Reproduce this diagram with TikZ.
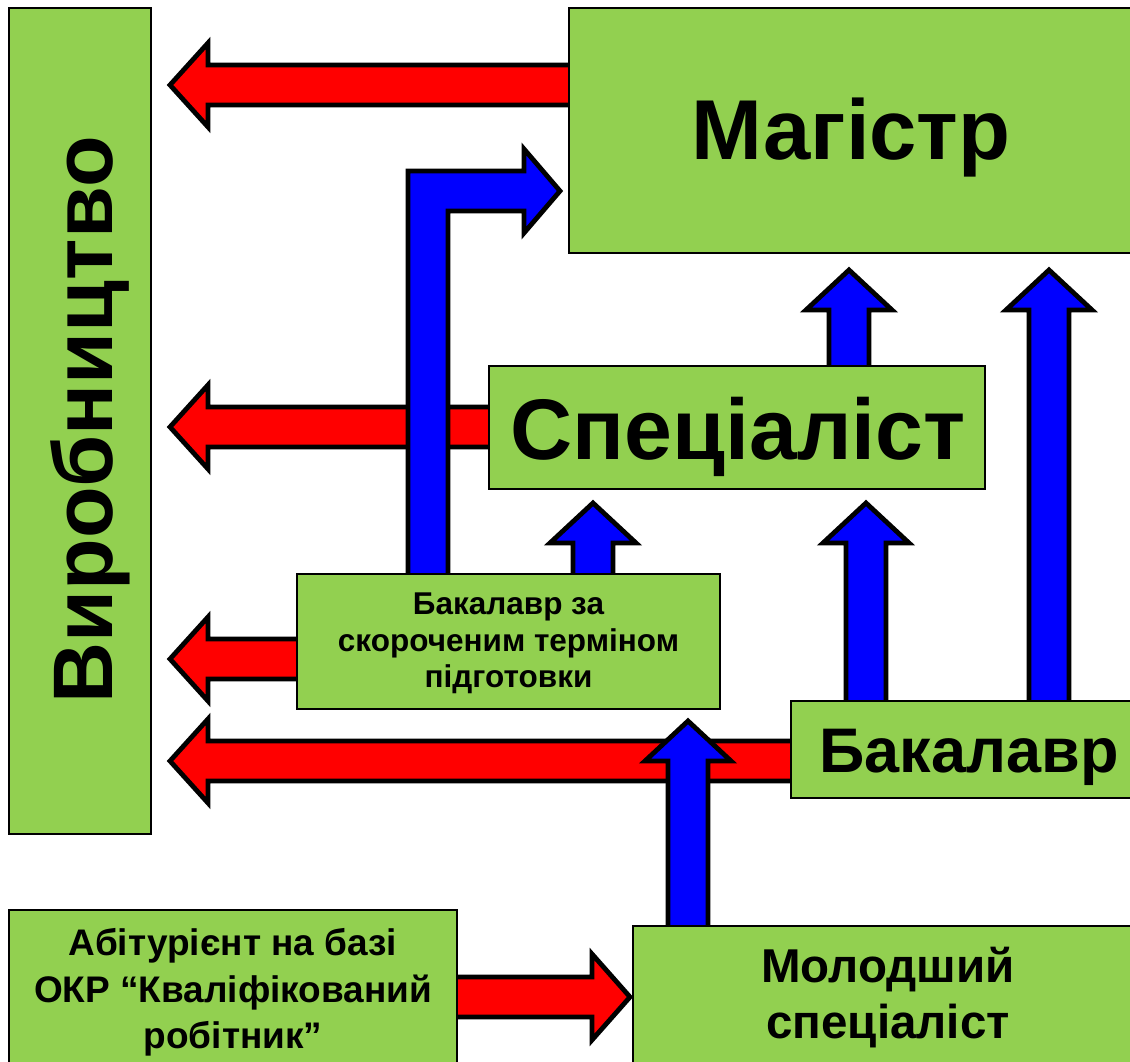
\documentclass[tikz,border=0pt]{standalone}
\usepackage{fontspec}
\setmainfont{Liberation Sans}
\usetikzlibrary{calc}
\definecolor{boxgreen}{HTML}{92D050}
\definecolor{arrred}{HTML}{FF0000}
\definecolor{arrblue}{HTML}{0000FF}
\pgfdeclarelayer{bg}
\pgfsetlayers{bg,main}
\newcommand\leftblock[3]{\draw[#1] ($(#2)+(10,20)$) -- ($(#3)+(38,20)$) -- ($(#3)+(38,42)$) -- (#3) -- ($(#3)+(38,-42)$) -- ($(#3)+(38,-20)$) -- ($(#2)+(10,-20)$) -- cycle;}
\newcommand\rightblock[3]{\draw[#1] ($(#2)+(-10,20)$) -- ($(#3)+(-38,20)$) -- ($(#3)+(-38,43)$) -- (#3) -- ($(#3)+(-38,-43)$) -- ($(#3)+(-38,-20)$) -- ($(#2)+(-10,-20)$) -- cycle;}
\newcommand\upblock[3]{\draw[#1] ($(#2)+(-20,-10)$) -- ($(#3)+(-20,-40)$) -- ($(#3)+(-43,-40)$) -- (#3) -- ($(#3)+(43,-40)$) -- ($(#3)+(20,-40)$) -- ($(#2)+(20,-10)$) -- cycle;}
\begin{document}
\begin{tikzpicture}[x=1pt,y=1pt,
  box/.style={draw=black, line width=2pt, fill=boxgreen, inner sep=0pt, rectangle},
  redarr/.style={fill=arrred, draw=black, line width=4.8pt, line join=miter, miter limit=10},
  bluearr/.style={fill=arrblue, draw=black, line width=4.8pt, line join=miter, miter limit=10},
  lbl/.style={anchor=base, inner sep=0pt}]
\useasboundingbox (0,0) rectangle (1130,1061);
\clip (0,0) rectangle (1130,1061);
% boxes
\node[box, minimum width=142, minimum height=826] (prod) at (80,640) {};
\node[box, minimum width=566, minimum height=245] (mag) at (852,930.5) {};
\node[box, minimum width=496, minimum height=123] (spec) at (737,633.5) {};
\node[box, minimum width=423, minimum height=135] (bsk) at (508.5,419.5) {};
\node[box, minimum width=356, minimum height=97] (bak) at (969,311.5) {};
\node[box, minimum width=510, minimum height=145] (mol) at (888,62.5) {};
\node[box, minimum width=448, minimum height=160] (abit) at (233,71) {};
% texts
\node[lbl, rotate=90, font=\bfseries\fontsize{84.5}{84.5}\selectfont] (tprod) at (112,641) {Виробництво};
\node[lbl, font=\bfseries\fontsize{85}{85}\selectfont] (tmag) at (851,901.5) {Магістр};
\node[lbl, font=\bfseries\fontsize{86}{86}\selectfont] (tspec) at (738,601) {Спеціаліст};
\node[lbl, font=\bfseries\fontsize{63}{63}\selectfont] (tbak) at (969,288) {Бакалавр};
\node[lbl, font=\bfseries\fontsize{31.5}{31.5}\selectfont] (tbsk1) at (508.5,446) {Бакалавр за};
\node[lbl, font=\bfseries\fontsize{31.5}{31.5}\selectfont] (tbsk2) at (508.5,409) {скороченим терміном};
\node[lbl, font=\bfseries\fontsize{31.5}{31.5}\selectfont] (tbsk3) at (508.5,373) {підготовки};
\node[lbl, font=\bfseries\fontsize{47.5}{47.5}\selectfont] (tmol1) at (888,79) {Молодший};
\node[lbl, font=\bfseries\fontsize{47.5}{47.5}\selectfont] (tmol2) at (888,23) {спеціаліст};
\node[lbl, font=\bfseries\fontsize{37}{37}\selectfont] (tab1) at (233,106) {Абітурієнт на базі};
\node[lbl, font=\bfseries\fontsize{37}{37}\selectfont] (tab2) at (233,59) {ОКР “Кваліфікований};
\node[lbl, font=\bfseries\fontsize{37}{37}\selectfont] (tab3) at (233,13) {робітник”};
% arrow end points
\coordinate (r1s) at (mag.west |- 0,976);   \coordinate (r1e) at (170,976);
\coordinate (r2s) at (spec.west |- 0,634);  \coordinate (r2e) at (170,634);
\coordinate (r3s) at (bsk.west |- 0,402);   \coordinate (r3e) at (170,402);
\coordinate (r4s) at (bak.west |- 0,300);   \coordinate (r4e) at (170,300);
\coordinate (r5s) at (abit.east |- 0,64);   \coordinate (r5e) at (630,64);
\coordinate (bbs) at (bsk.north -| 593,0);  \coordinate (bbe) at (593,558);
\coordinate (bcs) at (bak.north -| 866,0);  \coordinate (bce) at (866,558);
\coordinate (bds) at (spec.north -| 849,0); \coordinate (bde) at (849,791);
\coordinate (bes) at (bak.north -| 1049,0); \coordinate (bee) at (1049,791);
\coordinate (bfs) at (mol.north -| 688,0);  \coordinate (bfe) at (688,340);
\coordinate (bgl) at (bsk.north -| 408,0);  \coordinate (bgr) at (bsk.north -| 448,0);
\coordinate (bge) at (560,870);
\begin{pgfonlayer}{bg}
  \leftblock{redarr}{r1s}{r1e}
  \leftblock{redarr}{r2s}{r2e}
  \leftblock{redarr}{r3s}{r3e}
  \leftblock{redarr}{r4s}{r4e}
  \rightblock{redarr}{r5s}{r5e}
  \draw[bluearr] ($(bgl)+(0,-10)$) -- (408,890) -- ($(bge)+(-36,20)$) -- ($(bge)+(-36,42)$) -- (bge) -- ($(bge)+(-36,-42)$) -- ($(bge)+(-36,-20)$) -- (448,850) -- ($(bgr)+(0,-10)$) -- cycle;
  \upblock{bluearr}{bbs}{bbe}
  \upblock{bluearr}{bcs}{bce}
  \upblock{bluearr}{bds}{bde}
  \upblock{bluearr}{bes}{bee}
  \upblock{bluearr}{bfs}{bfe}
\end{pgfonlayer}
\end{tikzpicture}
\end{document}
